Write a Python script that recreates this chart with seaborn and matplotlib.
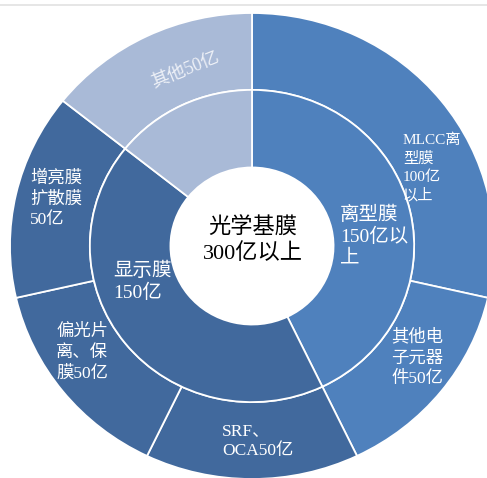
import matplotlib
matplotlib.use("Agg")
import matplotlib.pyplot as plt
from matplotlib.lines import Line2D
import seaborn as sns

sns.set_theme(style="white")
# serif Latin letters and digits, CJK glyphs from Noto Sans CJK
plt.rcParams["font.family"] = ["Liberation Serif", "Noto Sans CJK SC", "DejaVu Sans"]

# Market size of optical base films (亿元)
inner_labels = ["离型膜\n150亿以\n上", "显示膜\n150亿", ""]
inner_values = [150, 150, 50]

outer_labels = ["MLCC离\n型膜\n100亿\n以上", "其他电\n子元器\n件50亿", "SRF、\nOCA50亿",
                "偏光片\n离、保\n膜50亿", "增亮膜\n扩散膜\n50亿", "其他50亿"]
outer_values = [100, 50, 50, 50, 50, 50]

center_title = "光学基膜\n300亿以上"

blue = "#4f81bd"
navy = "#41699d"
pale = "#a9bad7"
inner_colors = [blue, navy, pale]
outer_colors = [blue, blue, navy, navy, navy, pale]

fig = plt.figure(figsize=(4.87, 4.78), dpi=100)
W, H = 487, 478
cx, cy, rx, ry = 252, 246, 242, 233
ax = fig.add_axes([(cx - rx) / W, (H - cy - ry) / H, 2 * rx / W, 2 * ry / H])

edge = dict(edgecolor="white", linewidth=1.3)
ax.pie(outer_values, radius=1.0, colors=outer_colors, startangle=90,
       counterclock=False, wedgeprops=dict(width=1.0 - 0.67, **edge))
ax.pie(inner_values, radius=0.67, colors=inner_colors, startangle=90,
       counterclock=False, wedgeprops=dict(width=0.67 - 0.337, **edge))
ax.set_aspect("auto")
ax.set_xlim(-1, 1)
ax.set_ylim(-1, 1)
ax.axis("off")


def pos(px, py):
    return (px - cx) / rx, (cy - py) / ry


# label anchors: (left x, block centre y) in pixels, font size
outer_pos = [(403, 168, 11), (391, 358, 12.5), (222, 441, 12.5),
             (56, 353, 12.5), (30, 199, 12.5)]
for text, (px, py, fs) in zip(outer_labels[:5], outer_pos):
    x, y = pos(px, py)
    ax.text(x, y, text, ha="left", va="center", color="white",
            fontsize=fs, linespacing=1.4)

x, y = pos(185, 70)
ax.text(x, y, outer_labels[5], ha="center", va="center", color="#eef1f7",
        fontsize=13, rotation=22)

inner_pos = [(340, 236, 14), (113, 282, 14)]
for text, (px, py, fs) in zip(inner_labels[:2], inner_pos):
    x, y = pos(px, py)
    ax.text(x, y, text, ha="left", va="center", color="white",
            fontsize=fs, linespacing=1.25)

x, y = pos(253, 241)
ax.text(x, y, center_title, ha="center", va="center", color="black",
        fontsize=16, linespacing=1.3)

fig.add_artist(Line2D([0, 1], [1 - 5 / H, 1 - 5 / H], color="#e2e2e2",
                      linewidth=1.2, transform=fig.transFigure))

fig.savefig("out.png", dpi=100, facecolor="white")
